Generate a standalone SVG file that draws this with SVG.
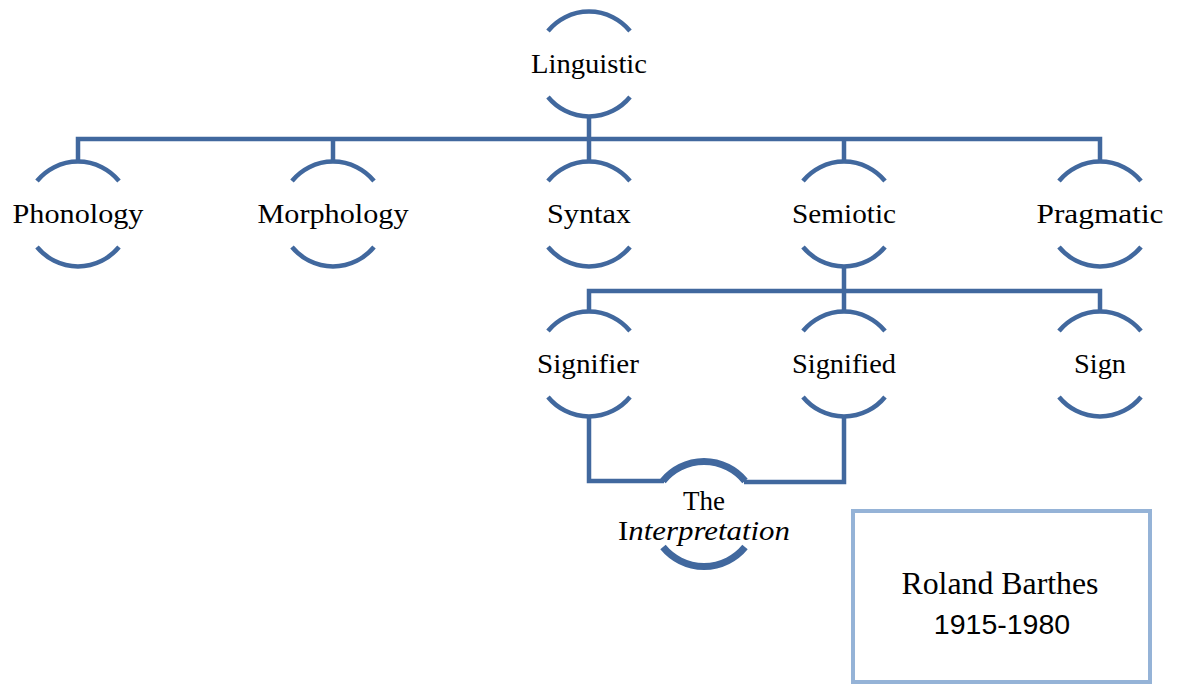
<svg xmlns="http://www.w3.org/2000/svg" width="1184" height="684" viewBox="0 0 1184 684">
<style>
.arc{fill:none;stroke:#41689E;stroke-width:4.5}
.arcb{fill:none;stroke:#41689E;stroke-width:7}
.con{fill:none;stroke:#41689E;stroke-width:4.5}
.t{font-family:"Liberation Serif","Times New Roman",serif;font-size:27px;fill:#000;text-anchor:middle}
.s{font-family:"Liberation Sans",Arial,sans-serif;font-size:28.5px;fill:#000;text-anchor:middle}
</style>
<rect width="1184" height="684" fill="#fff"/>
<g id="connectors">
<path class="con" d="M589 117 V139 M78 160 V139 H1100 V160 M333 139 V160 M589 139 V160 M844 139 V160"/>
<path class="con" d="M844 267 V291 M589 310 V291 H1100 V310 M844 291 V310"/>
<path class="con" d="M589 417 V481 H664"/>
<path class="con" d="M844 417 V482 H744"/>
</g>
<g id="linguistic">
<path class="arc" d="M548 31 A53 53 0 0 1 630 31"/>
<path class="arc" d="M548 97 A53 53 0 0 0 630 97"/>
<text class="t" x="589" y="73" textLength="116" lengthAdjust="spacingAndGlyphs">Linguistic</text>
</g>
<g id="phonology">
<path class="arc" d="M37 181 A53 53 0 0 1 119 181"/>
<path class="arc" d="M37 247 A53 53 0 0 0 119 247"/>
<text class="t" x="78" y="223" textLength="131" lengthAdjust="spacingAndGlyphs">Phonology</text>
</g>
<g id="morphology">
<path class="arc" d="M292 181 A53 53 0 0 1 374 181"/>
<path class="arc" d="M292 247 A53 53 0 0 0 374 247"/>
<text class="t" x="333" y="223" textLength="151" lengthAdjust="spacingAndGlyphs">Morphology</text>
</g>
<g id="syntax">
<path class="arc" d="M548 181 A53 53 0 0 1 630 181"/>
<path class="arc" d="M548 247 A53 53 0 0 0 630 247"/>
<text class="t" x="589" y="223" textLength="84" lengthAdjust="spacingAndGlyphs">Syntax</text>
</g>
<g id="semiotic">
<path class="arc" d="M803 181 A53 53 0 0 1 885 181"/>
<path class="arc" d="M803 247 A53 53 0 0 0 885 247"/>
<text class="t" x="844" y="223" textLength="104" lengthAdjust="spacingAndGlyphs">Semiotic</text>
</g>
<g id="pragmatic">
<path class="arc" d="M1059 181 A53 53 0 0 1 1141 181"/>
<path class="arc" d="M1059 247 A53 53 0 0 0 1141 247"/>
<text class="t" x="1100" y="223" textLength="127" lengthAdjust="spacingAndGlyphs">Pragmatic</text>
</g>
<g id="signifier">
<path class="arc" d="M548 331 A53 53 0 0 1 630 331"/>
<path class="arc" d="M548 397 A53 53 0 0 0 630 397"/>
<text class="t" x="588" y="373" textLength="102" lengthAdjust="spacingAndGlyphs">Signifier</text>
</g>
<g id="signified">
<path class="arc" d="M803 331 A53 53 0 0 1 885 331"/>
<path class="arc" d="M803 397 A53 53 0 0 0 885 397"/>
<text class="t" x="844" y="373" textLength="104" lengthAdjust="spacingAndGlyphs">Signified</text>
</g>
<g id="sign">
<path class="arc" d="M1059 331 A53 53 0 0 1 1141 331"/>
<path class="arc" d="M1059 397 A53 53 0 0 0 1141 397"/>
<text class="t" x="1100" y="373" textLength="52" lengthAdjust="spacingAndGlyphs">Sign</text>
</g>
<g id="interpretation">
<path class="arcb" d="M663 481 A53 53 0 0 1 745 481"/>
<path class="arcb" d="M663 547 A53 53 0 0 0 745 547"/>
<text class="t" x="704" y="510">The</text>
<text class="t" x="704" y="540" textLength="172" lengthAdjust="spacingAndGlyphs">I<tspan font-style="italic">nterpretation</tspan></text>
</g>
<g id="roland-barthes">
<rect x="853" y="511" width="297" height="171" fill="#fff" stroke="#95B3D7" stroke-width="4"/>
<text class="t" x="1000" y="594" style="font-size:31px" textLength="197" lengthAdjust="spacingAndGlyphs">Roland Barthes</text>
<text class="s" x="1002" y="634">1915-1980</text>
</g>
</svg>
